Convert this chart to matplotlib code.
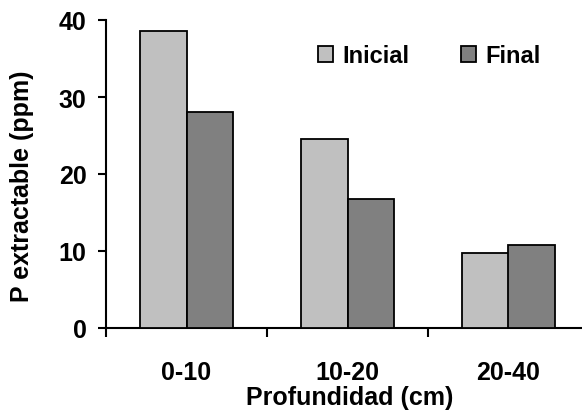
import matplotlib
matplotlib.use("Agg")
import matplotlib.pyplot as plt
from matplotlib.patches import Patch
import numpy as np

categories = ["0-10", "10-20", "20-40"]
inicial = [38.6, 24.6, 9.8]
final = [28.0, 16.8, 10.8]
series_names = ["Inicial", "Final"]
colors = ["#C0C0C0", "#808080"]
y_ticks = [0, 10, 20, 30, 40]

plt.rcParams['font.family'] = ['Liberation Sans', 'DejaVu Sans']
plt.rcParams['font.weight'] = 'bold'

W, H = 582, 414
FS = 18
fig = plt.figure(figsize=(W / 100, H / 100), dpi=100)
ax = fig.add_axes([106 / W, 85 / H, 476 / W, (329 - 21) / H])

x = np.arange(len(categories))
bw = 0.286
ax.bar(x - bw / 2, inicial, bw, color=colors[0], edgecolor='black', linewidth=1.3, zorder=3)
ax.bar(x + bw / 2, final, bw, color=colors[1], edgecolor='black', linewidth=1.3, zorder=3)

ax.set_xlim(-0.5, -0.5 + 476 / 161)
ax.set_ylim(0, 40)

for s in ['top', 'right']:
    ax.spines[s].set_visible(False)
ax.spines['left'].set_linewidth(1.5)
ax.spines['bottom'].set_linewidth(1.5)

ax.set_yticks(y_ticks)
ax.set_yticklabels([str(v) for v in y_ticks], fontsize=FS, fontweight='bold')
ax.tick_params(axis='y', direction='out', length=6, width=1.5, pad=8)

ax.set_xticks(x)
ax.set_xticklabels(categories, fontsize=FS, fontweight='bold')
ax.tick_params(axis='x', which='major', length=0, pad=23)
ax.set_xticks(np.arange(-0.5, 2.0, 1.0), minor=True)
ax.tick_params(axis='x', which='minor', direction='out', length=6.5, width=1.5)

fig.text(22.5 / W, 1 - 186 / H, "P extractable (ppm)", rotation=90, ha='center', va='center',
         fontsize=FS, fontweight='bold')
fig.text(350 / W, 9 / H, "Profundidad (cm)", ha='center', va='baseline',
         fontsize=FS, fontweight='bold')

handles = [Patch(facecolor=colors[0], edgecolor='black', linewidth=1.3),
           Patch(facecolor=colors[1], edgecolor='black', linewidth=1.3)]
fig.legend(handles, series_names, loc='upper left', bbox_to_anchor=(297 / W, 1 - 24 / H),
           ncol=2, frameon=False, prop={'size': FS - 1, 'weight': 'bold'},
           handlelength=0.62, handleheight=0.62, handletextpad=0.4, columnspacing=2.2)

fig.savefig("out.png", dpi=100)
